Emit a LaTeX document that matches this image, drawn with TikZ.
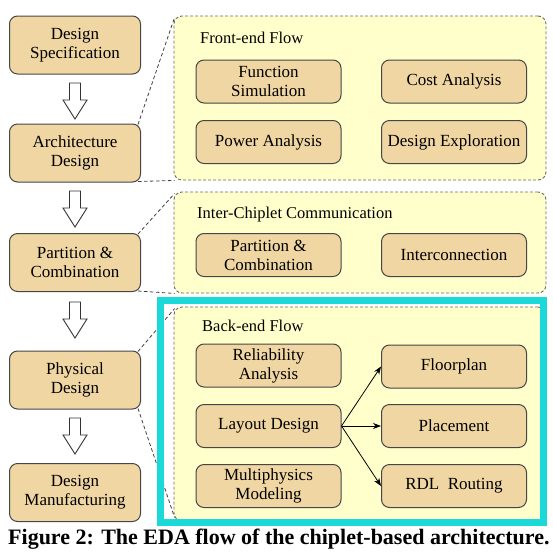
\documentclass[tikz,border=0pt]{standalone}
\usepackage{fontspec}
\setmainfont{Liberation Serif}
\usetikzlibrary{arrows.meta,calc}
\definecolor{tanc}{RGB}{240,214,163}
\definecolor{panelc}{RGB}{255,255,204}
\definecolor{cyanc}{RGB}{28,217,217}
\definecolor{edgec}{RGB}{70,70,70}
\tikzset{
  stagebox/.style={draw=edgec, fill=tanc, rounded corners=8pt, line width=1pt, align=center,
    font=\fontsize{17}{19}\selectfont, minimum width=131pt, minimum height=58pt, inner sep=0pt},
  subbox/.style={draw=edgec, fill=tanc, rounded corners=8pt, line width=1pt, align=center,
    font=\fontsize{17}{19}\selectfont, minimum width=145pt, minimum height=43pt, inner sep=0pt},
  panel/.style={draw=edgec!80, fill=panelc, dashed, dash pattern=on 3pt off 2pt, rounded corners=8pt,
    line width=0.9pt, inner sep=0pt},
  ptitle/.style={anchor=base west, font=\fontsize{16.5}{18.5}\selectfont, inner sep=0pt},
  zoomline/.style={draw=black!75, dash pattern=on 3.5pt off 2.5pt, line width=0.8pt},
  hollow/.style={draw=black!80, fill=white, line width=0.9pt},
  flowarrow/.style={draw=black, line width=0.8pt, -{Stealth[length=8pt,width=6pt]}},
}
\newcommand{\hollowarrow}[3]{% x, ytop, ybottom
  \draw[hollow] (#1-5.5,#2) -- (#1+5.5,#2) -- (#1+5.5,#3-19) -- (#1+12,#3-19) -- (#1,#3)
    -- (#1-12,#3-19) -- (#1-5.5,#3-19) -- cycle;}
\begin{document}
\begin{tikzpicture}[x=1pt,y=-1pt]
\useasboundingbox (0,0) rectangle (552,554);
% panels
\node[panel, minimum width=372pt, minimum height=164pt] (fe) at (360,98) {};
\node[panel, minimum width=372pt, minimum height=101pt] (ic) at (360,242.5) {};
\node[panel, minimum width=372pt, minimum height=214pt] (be) at (360,414) {};
\node[ptitle] (fet) at (200,43) {Front-end Flow};
\node[ptitle] (ict) at (197,218) {Inter-Chiplet Communication};
\node[ptitle] (bet) at (202,331) {Back-end Flow};
% stage boxes
\node[stagebox] (d1) at (75,45) {Design\\Specification};
\node[stagebox] (d2) at (75,153) {Architecture\\Design};
\node[stagebox] (d3) at (75,262.5) {Partition \&\\Combination};
\node[stagebox] (d4) at (75,380) {Physical\\Design};
\node[stagebox] (d5) at (75,492.5) {Design\\Manufacturing};
% hollow arrows
\hollowarrow{75}{83}{119}
\hollowarrow{75}{191}{227}
\hollowarrow{75}{302}{338}
\hollowarrow{75}{418}{454}
% front-end boxes
\node[subbox] (fs) at (268.5,81.5) {Function\\Simulation};
\node[subbox] (ca) at (454,81.5) {Cost Analysis};
\node[subbox] (pa) at (268.5,142) {Power Analysis};
\node[subbox] (de) at (454,142) {Design Exploration};
% inter-chiplet boxes
\node[subbox] (pc) at (268.5,255) {Partition \&\\Combination};
\node[subbox] (ir) at (454,255) {Interconnection};
% back-end boxes
\node[subbox] (ra) at (268.5,365.5) {Reliability\\Analysis};
\node[subbox] (ld) at (268.5,426) {Layout Design};
\node[subbox] (mm) at (268.5,486) {Multiphysics\\Modeling};
\node[subbox] (fp) at (454,366.5) {Floorplan};
\node[subbox] (pl) at (454,426) {Placement};
\node[subbox] (rr) at (454,486) {RDL\ \ Routing};
% flow arrows
\draw[flowarrow] (ld.east) -- (fp.west);
\draw[flowarrow] (ld.east) -- (pl.west);
\draw[flowarrow] (ld.east) -- (rr.west);
% zoom lines
\draw[zoomline] ($(d2.north east)+(-3,1)$) -- ($(fe.north west)+(1,2)$);
\draw[zoomline] ($(d2.south east)+(-3,-1)$) -- ($(fe.south west)+(1,0)$);
\draw[zoomline] ($(d3.north east)+(-3,1)$) -- ($(ic.north west)+(1,2)$);
\draw[zoomline] ($(d3.south east)+(-3,-1)$) -- ($(ic.south west)+(1,0)$);
\draw[zoomline] ($(d4.north east)+(-3,1)$) -- ($(be.north west)+(1,2)$);
\draw[zoomline] ($(d4.south east)+(-3,-1)$) -- ($(be.south west)+(1,-4)$);
% highlight
\draw[draw=cyanc, line width=7pt] (160.5,300) rectangle (543,522.5);
% caption
\node[anchor=base west, inner sep=0pt, font=\bfseries\fontsize{22}{24}\selectfont] (cap) at (8,544)
  {Figure 2: The EDA flow of the chiplet-based architecture.};
\end{tikzpicture}
\end{document}
